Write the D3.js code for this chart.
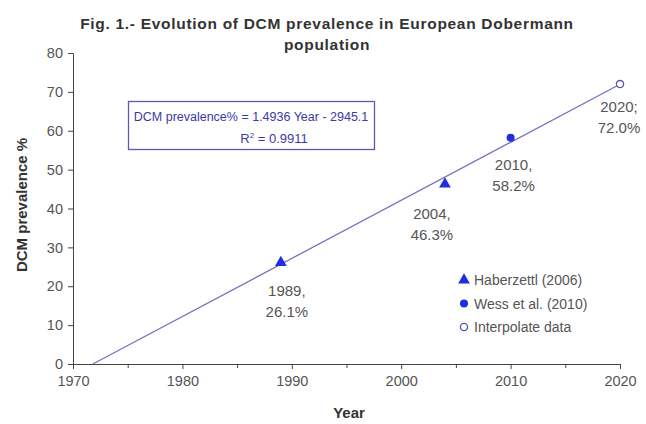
<!DOCTYPE html>
<html>
<head>
<meta charset="utf-8">
<script src="https://cdn.jsdelivr.net/npm/d3@7"></script>
<style>
  body { margin: 0; background: #fff; }
  svg { display: block; font-family: "Liberation Sans", Arial, sans-serif; }
</style>
</head>
<body>
<div id="chart"></div>
<script>
// data
const years = [1989, 2004, 2010, 2020];
const prevalence = [26.1, 46.3, 58.2, 72.0];
const sources = ['Haberzettl (2006)', 'Haberzettl (2006)', 'Wess et al. (2010)', 'Interpolate data'];
const labelSep = [',', ',', ',', ';'];
const legendItems = ['Haberzettl (2006)', 'Wess et al. (2010)', 'Interpolate data'];
const xTicks = [1970, 1980, 1990, 2000, 2010, 2020];
const yTicks = [0, 10, 20, 30, 40, 50, 60, 70, 80];
const slope = 1.4936;
const intercept = -2945.1;
const r2 = 0.9911;

const width = 646;
const height = 424;
const margin = {top: 53, right: 26, bottom: 60, left: 73};

const svg = d3.select('#chart')
    .append('svg')
    .attr('width', width)
    .attr('height', height);

const x = d3.scaleLinear()
    .domain([1970, 2020])
    .range([margin.left, width - margin.right]);

const y = d3.scaleLinear()
    .domain([0, 80])
    .range([height - margin.bottom, margin.top]);

const blue = '#1f2fe0';
const lineCol = '#7373c4';
const tickCol = '#555';

// title
const title = svg.append('g')
    .attr('text-anchor', 'middle')
    .attr('font-size', '15.5px').attr('font-weight', 'bold').attr('fill', '#333')
    .attr('letter-spacing', '0.7px');
title.append('text').attr('x', 327).attr('y', 29)
    .text('Fig. 1.- Evolution of DCM prevalence in European Dobermann');
title.append('text').attr('x', 327).attr('y', 50)
    .text('population');

// axes
const xAxis = svg.append('g')
    .attr('transform', `translate(0,${y(0)})`)
    .call(d3.axisBottom(x).tickValues(xTicks).tickFormat(d3.format('d')).tickSize(5).tickPadding(7));
svg.append('g')
    .attr('transform', `translate(0,${y(0)})`)
    .call(d3.axisBottom(x).tickValues(d3.range(1975, 2020, 10)).tickFormat('').tickSize(4))
    .call(g => g.select('.domain').remove());
const yAxis = svg.append('g')
    .attr('transform', `translate(${x(1970)},0)`)
    .call(d3.axisLeft(y).tickValues(yTicks).tickSize(5).tickPadding(5));

svg.selectAll('.domain').attr('stroke', '#444');
svg.selectAll('.tick line').attr('stroke', '#444');
xAxis.selectAll('text').attr('font-size', '14.5px').attr('fill', tickCol);
yAxis.selectAll('text').attr('font-size', '14.5px').attr('fill', tickCol);

// axis titles
svg.append('text')
    .attr('x', 349).attr('y', 418)
    .attr('text-anchor', 'middle')
    .attr('font-size', '15px').attr('font-weight', 'bold').attr('fill', '#333')
    .text('Year');
svg.append('text')
    .attr('transform', 'translate(27,205) rotate(-90)')
    .attr('text-anchor', 'middle')
    .attr('font-size', '15px').attr('font-weight', 'bold').attr('fill', '#333')
    .text('DCM prevalence %');

// regression line
const x0 = -intercept / slope;
svg.append('line')
    .attr('x1', x(x0)).attr('y1', y(0))
    .attr('x2', x(2020)).attr('y2', y(slope * 2020 + intercept))
    .attr('stroke', lineCol).attr('stroke-width', 1.3);

// markers
function marker(g, src, cx, cy) {
    if (src === 'Haberzettl (2006)') {
        g.append('path')
            .attr('d', d3.symbol(d3.symbolTriangle, 60)())
            .attr('transform', `translate(${cx},${cy})`)
            .attr('fill', blue);
    } else if (src === 'Wess et al. (2010)') {
        g.append('circle').attr('cx', cx).attr('cy', cy).attr('r', 4).attr('fill', blue);
    } else {
        g.append('circle').attr('cx', cx).attr('cy', cy).attr('r', 3.6)
            .attr('fill', '#fff').attr('stroke', '#5555aa').attr('stroke-width', 1.3);
    }
}
const pts = svg.append('g');
years.forEach((yr, i) => marker(pts, sources[i], x(yr), y(prevalence[i])));

// data labels (offset from the point)
const labelOff = [[6, 33], [-13, 35], [3, 32], [-1, 28]];
const labels = svg.append('g')
    .attr('font-size', '15px').attr('fill', tickCol).attr('text-anchor', 'middle');
years.forEach((yr, i) => {
    const lx = x(yr) + labelOff[i][0];
    const ly = y(prevalence[i]) + labelOff[i][1];
    labels.append('text').attr('x', lx).attr('y', ly).text(yr + labelSep[i]);
    labels.append('text').attr('x', lx).attr('y', ly + 21).text(prevalence[i].toFixed(1) + '%');
});

// equation box
const eq = svg.append('g');
eq.append('rect')
    .attr('x', 128.5).attr('y', 101.5).attr('width', 246).attr('height', 48)
    .attr('fill', '#fff').attr('stroke', '#5a5ab4').attr('stroke-width', 1.3);
eq.append('text')
    .attr('x', 251).attr('y', 121)
    .attr('text-anchor', 'middle')
    .attr('font-size', '12.5px').attr('fill', '#3a3aa8')
    .text(`DCM prevalence% = ${slope} Year - ${-intercept}`);
const r2t = eq.append('text')
    .attr('x', 274).attr('y', 143)
    .attr('text-anchor', 'middle')
    .attr('font-size', '13px').attr('fill', '#3a3aa8');
r2t.append('tspan').text('R');
r2t.append('tspan').attr('font-size', '8px').attr('dy', -5).text('2');
r2t.append('tspan').attr('dy', 5).text(` = ${r2}`);

// legend
const legend = svg.append('g');
legendItems.forEach((name, i) => {
    const ly = 280 + i * 23.5;
    marker(legend, name, 464, ly);
    legend.append('text')
        .attr('x', 474).attr('y', ly + 5)
        .attr('font-size', '14px').attr('fill', tickCol)
        .text(name);
});
</script>
</body>
</html>
